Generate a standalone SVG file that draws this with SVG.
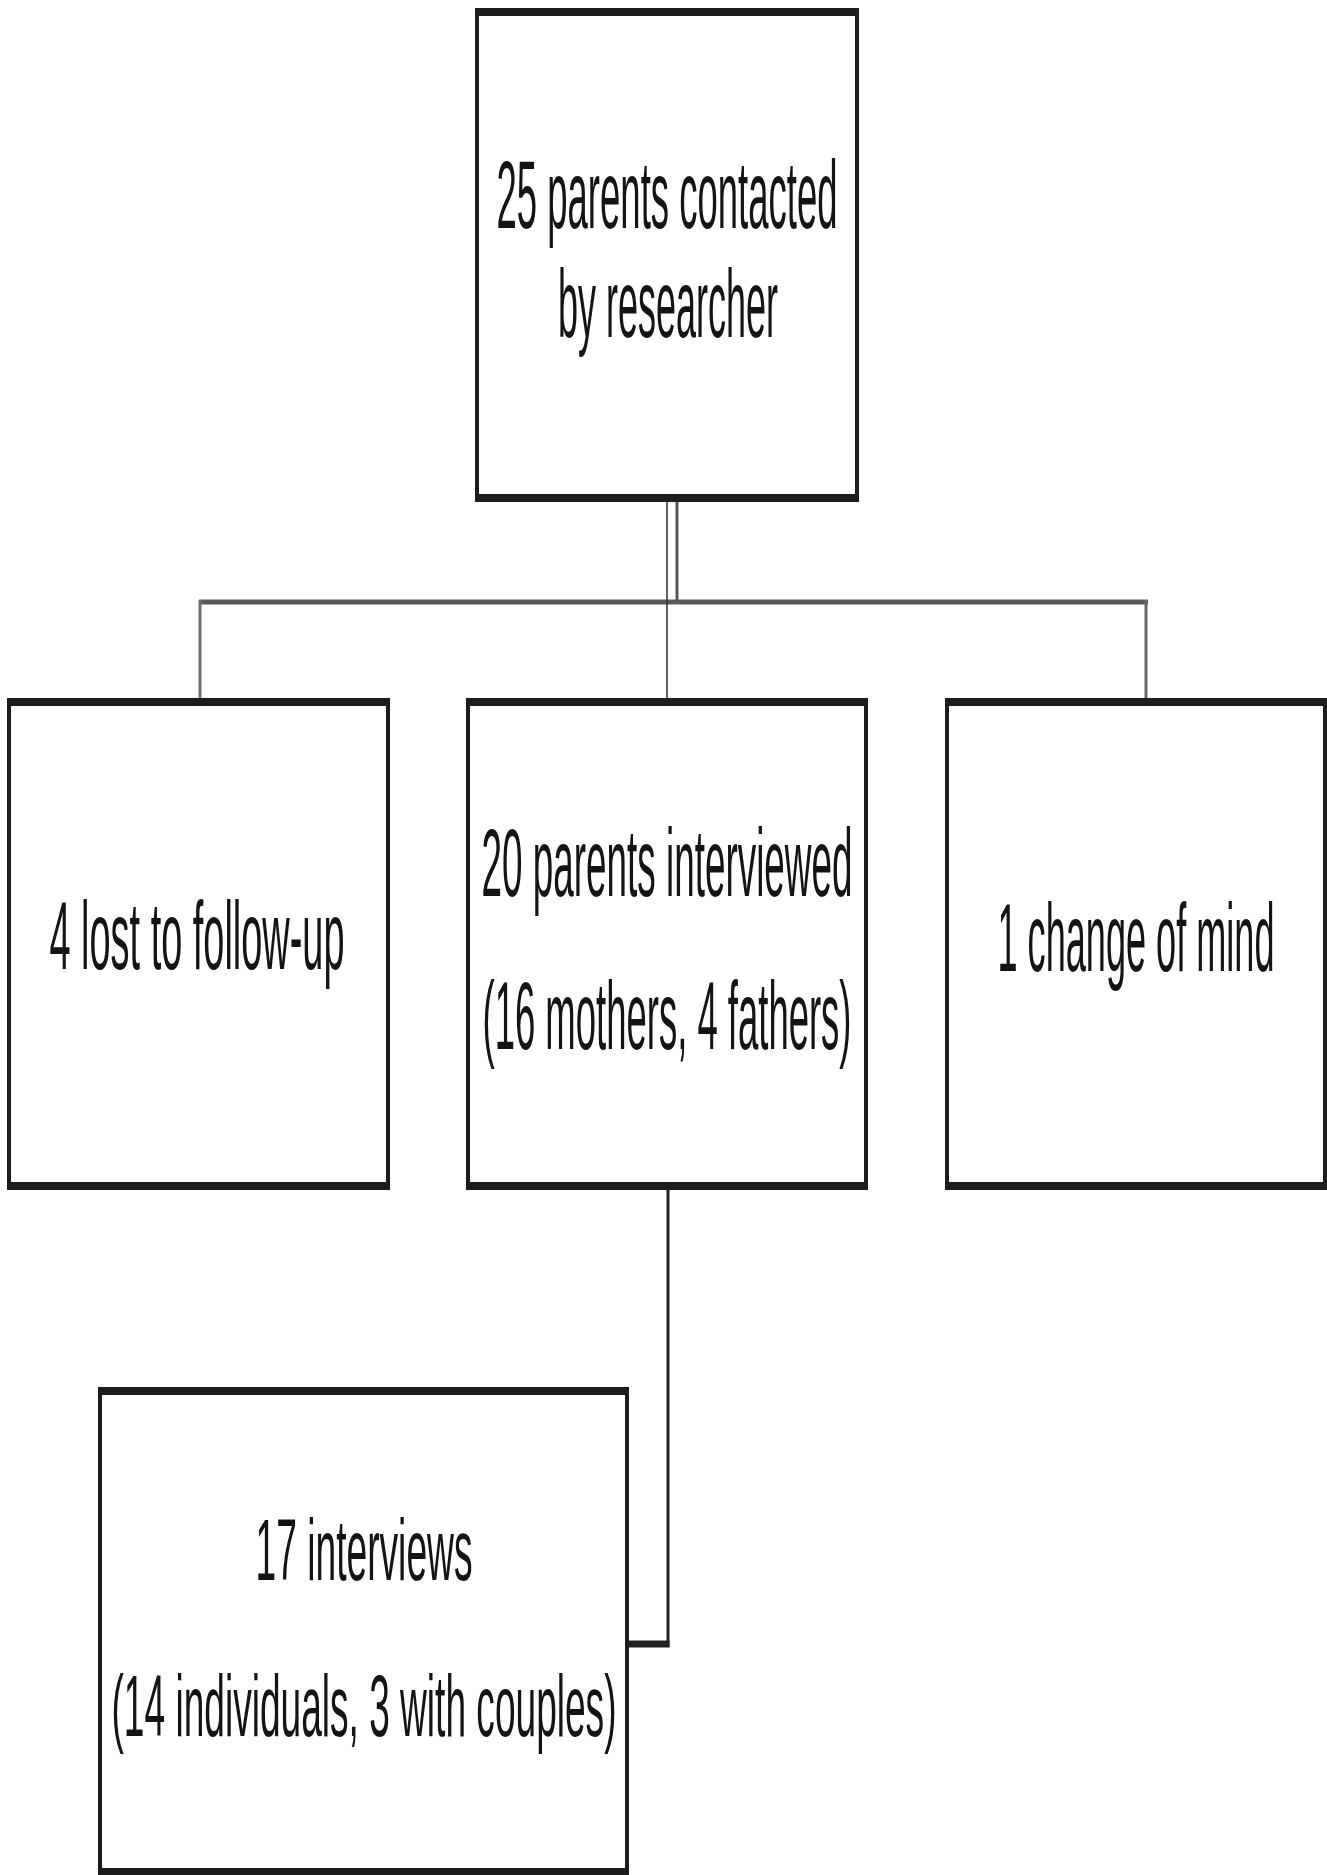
<svg xmlns="http://www.w3.org/2000/svg" width="1327" height="1875" viewBox="0 0 1327 1875">
  <style>
    .box { fill: #ffffff; stroke: #1c1c1c; stroke-width: 4; }
    .edge { stroke: #1c1c1c; stroke-width: 8; fill: none; }
    .label { font-family: "Liberation Sans Narrow", "Liberation Sans", Arial, sans-serif; fill: #141414; text-anchor: middle; }
    .big { font-size: 96px; }
    .small { font-size: 88px; }
    .conn { fill: none; stroke-linecap: butt; }
  </style>
  <rect width="1327" height="1875" fill="#ffffff"/>

  <!-- connectors -->
  <g id="connectors">
    <line class="conn" x1="199" y1="602" x2="1148" y2="602" stroke="#5a5a5a" stroke-width="5"/>
    <line class="conn" x1="677" y1="500" x2="677" y2="602" stroke="#555555" stroke-width="3"/>
    <line class="conn" x1="667" y1="500" x2="667" y2="702" stroke="#333333" stroke-width="1.5"/>
    <line class="conn" x1="200" y1="600" x2="200" y2="702" stroke="#6e6e6e" stroke-width="3"/>
    <line class="conn" x1="1146" y1="600" x2="1146" y2="702" stroke="#666666" stroke-width="3"/>
    <line class="conn" x1="668" y1="1186" x2="668" y2="1647" stroke="#222222" stroke-width="3"/>
    <line class="conn" x1="626" y1="1644" x2="669.5" y2="1644" stroke="#222222" stroke-width="7"/>
  </g>

  <!-- 25 parents contacted -->
  <g id="node-contacted">
    <rect class="box" x="477" y="12" width="380" height="486"/>
    <path class="edge" d="M475 12 H859 M475 498 H859"/>
    <text class="label big" transform="translate(667 228) scale(0.4 1)" textLength="852.5" lengthAdjust="spacingAndGlyphs">25 parents contacted</text>
    <text class="label big" transform="translate(668 337) scale(0.4 1)" textLength="550" lengthAdjust="spacingAndGlyphs">by researcher</text>
  </g>

  <!-- 4 lost to follow-up -->
  <g id="node-lost">
    <rect class="box" x="9" y="702" width="379" height="484"/>
    <path class="edge" d="M7 702 H390 M7 1186 H390"/>
    <text class="label big" transform="translate(197 969) scale(0.4 1)" textLength="737.5" lengthAdjust="spacingAndGlyphs">4 lost to follow-up</text>
  </g>

  <!-- 20 parents interviewed -->
  <g id="node-interviewed">
    <rect class="box" x="468" y="702" width="398" height="484"/>
    <path class="edge" d="M466 702 H868 M466 1186 H868"/>
    <text class="label big" transform="translate(667 896) scale(0.4 1)" textLength="927.5" lengthAdjust="spacingAndGlyphs">20 parents interviewed</text>
    <text class="label big" transform="translate(667 1049) scale(0.4 1)" textLength="922.5" lengthAdjust="spacingAndGlyphs">(16 mothers, 4 fathers)</text>
  </g>

  <!-- 1 change of mind -->
  <g id="node-changed">
    <rect class="box" x="947" y="702" width="378" height="484"/>
    <path class="edge" d="M945 702 H1327 M945 1186 H1327"/>
    <text class="label big" transform="translate(1136 971) scale(0.4 1)" textLength="692.5" lengthAdjust="spacingAndGlyphs">1 change of mind</text>
  </g>

  <!-- 17 interviews -->
  <g id="node-interviews">
    <rect class="box" x="100" y="1391" width="527" height="481"/>
    <path class="edge" d="M98 1391 H629 M98 1872 H629"/>
    <text class="label small" transform="translate(364 1580) scale(0.4 1)" textLength="542.5" lengthAdjust="spacingAndGlyphs">17 interviews</text>
    <text class="label small" transform="translate(364 1736) scale(0.4 1)" textLength="1262.5" lengthAdjust="spacingAndGlyphs">(14 individuals, 3 with couples)</text>
  </g>
</svg>
